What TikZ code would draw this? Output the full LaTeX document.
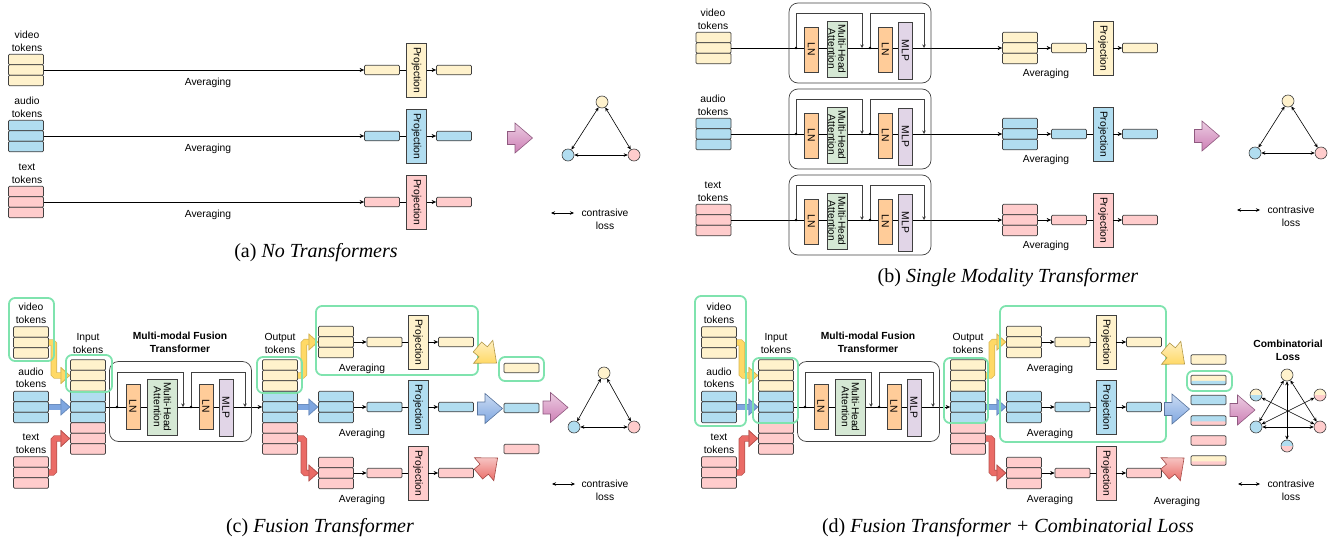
\documentclass[tikz,border=0pt]{standalone}
\usepackage{fontspec}
\setmainfont{Liberation Serif}
\setsansfont{Liberation Sans}
\usetikzlibrary{arrows.meta}

\definecolor{vidc}{HTML}{FFF2CC}
\definecolor{audc}{HTML}{B1DDF0}
\definecolor{txtc}{HTML}{FFCCCC}
\definecolor{lnc}{HTML}{FFCC99}
\definecolor{mhac}{HTML}{D5E8D4}
\definecolor{mlpc}{HTML}{E1D5E7}
\definecolor{edge}{HTML}{404040}
\definecolor{hlc}{HTML}{7FE3AE}
\definecolor{yfat}{HTML}{FFD966}
\definecolor{ydk}{HTML}{D6B656}
\definecolor{bfat}{HTML}{7EA6E0}
\definecolor{bdk}{HTML}{6C8EBF}
\definecolor{rfat}{HTML}{EA6B66}
\definecolor{rdk}{HTML}{B85450}
\definecolor{pfat}{HTML}{CD7FB5}

\tikzset{
  lbl/.style={font=\sffamily\fontsize{10.3}{12.5}\selectfont, align=center, inner sep=0pt},
  ttl/.style={lbl, font=\sffamily\bfseries\fontsize{10.3}{12.5}\selectfont},
  captxt/.style={font=\fontsize{20}{24}\selectfont, inner sep=0pt},
  tok/.style={draw=edge, line width=0.7pt, rounded corners=1.2pt, minimum width=35pt, minimum height=10.5pt, inner sep=0pt, fill=#1},
  pooled/.style={tok=#1, minimum height=9.5pt},
  halfbox/.style 2 args={pooled=#1, path picture={\fill[#2] ([yshift=-0.8pt]path picture bounding box.west) rectangle (path picture bounding box.south east);}},
  vbox/.style={draw=edge, line width=0.7pt, rotate=-90, lbl},
  proj/.style={vbox, fill=#1, minimum width=54pt, minimum height=20pt},
  lnbox/.style={vbox, fill=lnc, minimum width=45pt, minimum height=14pt},
  mha/.style={vbox, fill=mhac, minimum width=56pt, minimum height=#1, font=\sffamily\fontsize{10.2}{9.8}\selectfont},
  mlp/.style={vbox, fill=mlpc, minimum width=57pt, minimum height=14pt},
  blk/.style={draw=edge, line width=0.7pt, rounded corners=9pt, minimum width=142pt, minimum height=80pt},
  hl/.style={draw=hlc, line width=1.8pt, rounded corners=6pt},
  gnode/.style={circle, draw=edge, line width=0.6pt, minimum size=12pt, inner sep=0pt, fill=#1},
  halfnode/.style 2 args={gnode=#1, path picture={\fill[#2] (path picture bounding box.west) rectangle (path picture bounding box.south east);}},
  ln/.style={draw=black, line width=0.7pt},
  arr/.style={ln, ->, >={Stealth[length=4.5pt,width=4pt]}},
  res/.style={draw=edge, line width=0.6pt, ->, >={Stealth[length=3.5pt,width=3.5pt]}},
  cl/.style={line width=0.6pt, <->, >={Stealth[length=4pt,width=3.5pt]}},
  fatln/.style 2 args={draw=#1, line width=5pt, rounded corners=1.5pt,
    -{Triangle[width=17pt,length=9.5pt,line width=0.7pt,fill=#1,color=#2]},
    preaction={draw=#2, line width=6.4pt}},
  fat/.style={draw=#1!70!black, line width=0.6pt, top color=#1!40, bottom color=#1},
  pics/fatarr/.style={code={
    \path[pic actions] (-12.5,-6.5) -- (-5,-6.5) -- (-5,-15) -- (12.5,0) -- (-5,15) -- (-5,6.5) -- (-12.5,6.5) -- cycle;}},
}

\begin{document}
\begin{tikzpicture}[x=1pt,y=-1pt]
\useasboundingbox (0,0) rectangle (1335,546);

% (a) no transformers
\foreach \m/\col/\y in {video/vidc/70,audio/audc/136,text/txtc/202}{
  \node[lbl] (a-\m-lbl) at (27,\y-28.5) {\m\\tokens};
  \foreach \k in {0,1,2}
    \node[tok=\col] (a-\m-\k) at (26,\y-10.5+10.5*\k) {};
  \node[pooled=\col] (a-\m-avg) at (382,\y) {};
  \node[proj=\col] (a-\m-proj) at (416.5,\y) {Projection};
  \node[pooled=\col] (a-\m-out) at (454,\y) {};
  \node[lbl] (a-\m-note) at (208,\y+13) {Averaging};
  \draw[arr] (a-\m-1.east) -- (a-\m-avg.west);
  \draw[ln] (a-\m-avg.east) -- (a-\m-proj);
  \draw[arr] (a-\m-proj) -- (a-\m-out.west);
}
\pic[fat=pfat] (a-arr) at (520,138) {fatarr};
\node[gnode=vidc] (a-gv) at (602,102) {};
\node[gnode=audc] (a-ga) at (568,155) {};
\node[gnode=txtc] (a-gt) at (634,155) {};
\draw[cl] (a-gv) -- (a-ga);
\draw[cl] (a-gv) -- (a-gt);
\draw[cl] (a-ga) -- (a-gt);
\coordinate (a-l1) at (551,213);
\coordinate (a-l2) at (574,213);
\draw[cl] (a-l1) -- (a-l2);
\node[lbl] (a-leg) at (605,219.5) {contrasive\\loss};
\node[captxt] (a-cap) at (316,253) {(a) \textit{No Transformers}};

% (b) single modality transformer
\foreach \m/\col/\y in {video/vidc/48,audio/audc/134,text/txtc/220}{
  \node[lbl] (b-\m-lbl) at (713,\y-28.5) {\m\\tokens};
  \foreach \k in {0,1,2}{
    \node[tok=\col] (b-\m-\k) at (713.5,\y-10.5+10.5*\k) {};
    \node[tok=\col] (b-\m-o\k) at (1020,\y-10.5+10.5*\k) {};
  }
  \draw[arr] (b-\m-1.east) -- (b-\m-o1.west);
  \node[blk] (b-\m-blk) at (860,\y-5) {};
  \coordinate (b-\m-r1) at (796,\y);
  \coordinate (b-\m-r2) at (862,\y);
  \coordinate (b-\m-r3) at (870,\y);
  \coordinate (b-\m-r4) at (924,\y);
  \draw[res] (b-\m-r1) -- ++(0,-35) -| (b-\m-r2);
  \draw[res] (b-\m-r3) -- ++(0,-35) -| (b-\m-r4);
  \fill (b-\m-r1) circle (1.3pt);
  \fill (b-\m-r3) circle (1.3pt);
  \node[lnbox] (b-\m-ln1) at (811.5,\y+1.5) {LN};
  \node[mha=20pt] (b-\m-mha) at (837,\y+1) {Multi-Head\\Attention};
  \node[lnbox] (b-\m-ln2) at (885.5,\y+1.5) {LN};
  \node[mlp] (b-\m-mlp) at (905.5,\y+2.5) {MLP};
  \node[pooled=\col] (b-\m-avg) at (1069,\y) {};
  \node[proj=\col] (b-\m-proj) at (1103,\y) {Projection};
  \node[pooled=\col] (b-\m-out) at (1140,\y) {};
  \node[lbl] (b-\m-note) at (1046,\y+26) {Averaging};
  \draw[arr] (b-\m-o1.east) -- (b-\m-avg.west);
  \draw[ln] (b-\m-avg.east) -- (b-\m-proj);
  \draw[arr] (b-\m-proj) -- (b-\m-out.west);
}
\pic[fat=pfat] (b-arr) at (1207,136) {fatarr};
\node[gnode=vidc] (b-gv) at (1288,101) {};
\node[gnode=audc] (b-ga) at (1255,153) {};
\node[gnode=txtc] (b-gt) at (1321,153) {};
\draw[cl] (b-gv) -- (b-ga);
\draw[cl] (b-gv) -- (b-gt);
\draw[cl] (b-ga) -- (b-gt);
\coordinate (b-l1) at (1237,210);
\coordinate (b-l2) at (1260,210);
\draw[cl] (b-l1) -- (b-l2);
\node[lbl] (b-leg) at (1291,216.5) {contrasive\\loss};
\node[captxt] (b-cap) at (1008,278) {(b) \textit{Single Modality Transformer}};

% (c) and (d) fusion transformer
\foreach \p/\dx in {c/0,d/688}{
\begin{scope}[xshift=\dx]
  \foreach \m/\col/\t in {video/vidc/332,audio/audc/396.5,text/txtc/462}{
    \node[lbl] (\p-\m-lbl) at (31,\t-18.5) {\m\\tokens};
    \foreach \k in {0,1,2}
      \node[tok=\col] (\p-\m-\k) at (31,\t+10.5*\k) {};
  }
  \foreach \i/\col in {0/vidc,1/vidc,2/vidc,3/audc,4/audc,5/audc,6/txtc,7/txtc,8/txtc}{
    \node[tok=\col] (\p-in\i) at (88,365+10.5*\i) {};
    \node[tok=\col] (\p-out\i) at (280,365+10.5*\i) {};
  }
  \node[lbl] (\p-inlbl) at (88,343.5) {Input\\tokens};
  \node[lbl] (\p-outlbl) at (280,343.5) {Output\\tokens};
  \node[ttl] (\p-title) at (180,342.5) {Multi-modal Fusion\\Transformer};
  \draw[arr] (\p-in4.east) -- (\p-out4.west);
  \node[blk] (\p-blk) at (180.5,401.5) {};
  \coordinate (\p-r1) at (117,407);
  \coordinate (\p-r2) at (183,407);
  \coordinate (\p-r3) at (191,407);
  \coordinate (\p-r4) at (245,407);
  \draw[res] (\p-r1) -- ++(0,-35) -| (\p-r2);
  \draw[res] (\p-r3) -- ++(0,-35) -| (\p-r4);
  \fill (\p-r1) circle (1.3pt);
  \fill (\p-r3) circle (1.3pt);
  \node[lnbox] (\p-ln1) at (133,406.5) {LN};
  \node[mha=30pt] (\p-mha) at (162.5,407) {Multi-Head\\Attention};
  \node[lnbox] (\p-ln2) at (206,406.5) {LN};
  \node[mlp] (\p-mlp) at (226,407.5) {MLP};
  \draw[fatln={yfat}{ydk}] (\p-video-1.east) -- ++(5,0) |- (\p-in1.west);
  \draw[fatln={bfat}{bdk}] (\p-audio-1.east) -- (\p-in4.west);
  \draw[fatln={rfat}{rdk}] (\p-text-1.east) -- ++(5,0) |- (\p-in7.west);
  \foreach \m/\col/\y in {video/vidc/342,audio/audc/407,text/txtc/473}{
    \foreach \k in {0,1,2}
      \node[tok=\col] (\p-\m-s\k) at (336,\y-10.5+10.5*\k) {};
    \node[pooled=\col] (\p-\m-avg) at (384.5,\y) {};
    \node[proj=\col] (\p-\m-proj) at (418,\y) {Projection};
    \node[pooled=\col] (\p-\m-out) at (456,\y) {};
    \node[lbl] (\p-\m-note) at (362,\y+26.5) {Averaging};
    \draw[arr] (\p-\m-s1.east) -- (\p-\m-avg.west);
    \draw[ln] (\p-\m-avg.east) -- (\p-\m-proj);
    \draw[arr] (\p-\m-proj) -- (\p-\m-out.west);
  }
  \draw[fatln={yfat}{ydk}] (\p-out1.east) -- ++(6,0) |- (\p-video-s1.west);
  \draw[fatln={bfat}{bdk}] (\p-out4.east) -- (\p-audio-s1.west);
  \draw[fatln={rfat}{rdk}] (\p-out7.east) -- ++(6,0) |- (\p-text-s1.west);
\end{scope}
}

% (c) fusion: only video-audio-text pairs
\draw[hl] (9,298) rectangle (54,361);
\draw[hl] (66,355) rectangle (112,392);
\draw[hl] (257,357) rectangle (302,393);
\draw[hl] (316,306) rectangle (478,375);
\draw[hl] (499,357) rectangle (544,381);
\pic[fat=yfat, rotate=-40] (c-yarr) at (487,355) {fatarr};
\pic[fat=bfat] (c-barr) at (490,408.5) {fatarr};
\pic[fat=rfat, rotate=40] (c-rarr) at (488,466) {fatarr};
\node[pooled=vidc] (c-fv) at (521.5,368) {};
\node[pooled=audc] (c-fa) at (521.5,408) {};
\node[pooled=txtc] (c-ft) at (521.5,449) {};
\pic[fat=pfat] (c-arr) at (555.5,407.5) {fatarr};
\node[gnode=vidc] (c-gv) at (604,373) {};
\node[gnode=audc] (c-ga) at (574,427) {};
\node[gnode=txtc] (c-gt) at (634,427) {};
\draw[cl] (c-gv) -- (c-ga);
\draw[cl] (c-gv) -- (c-gt);
\draw[cl] (c-ga) -- (c-gt);
\coordinate (c-l1) at (552,484);
\coordinate (c-l2) at (575,484);
\draw[cl] (c-l1) -- (c-l2);
\node[lbl] (c-leg) at (605,490.5) {contrasive\\loss};
\node[captxt] (c-cap) at (320,528) {(c) \textit{Fusion Transformer}};

% (d) fusion + combinatorial loss
\draw[hl] (695,296) rectangle (746,426);
\draw[hl] (753,358) rectangle (798,423);
\draw[hl] (944,358) rectangle (988,423);
\draw[hl] (1000,306) rectangle (1166,442);
\draw[hl] (1187,371) rectangle (1232,391);
\pic[fat=yfat, rotate=-40] (d-yarr) at (1175,356) {fatarr};
\pic[fat=bfat] (d-barr) at (1177,409) {fatarr};
\pic[fat=rfat, rotate=40] (d-rarr) at (1174.5,466) {fatarr};
\node[pooled=vidc] (d-c1) at (1208.5,359.5) {};
\node[halfbox={vidc}{audc}] (d-c2) at (1208.5,380) {};
\node[pooled=audc] (d-c3) at (1208.5,400) {};
\node[halfbox={audc}{txtc}] (d-c4) at (1208.5,420.5) {};
\node[pooled=txtc] (d-c5) at (1208.5,440.5) {};
\node[halfbox={vidc}{txtc}] (d-c6) at (1208.5,460.5) {};
\node[lbl] (d-note) at (1177,502) {Averaging};
\pic[fat=pfat] (d-arr) at (1242.5,410) {fatarr};
\node[ttl] (d-title) at (1288,350.5) {Combinatorial\\Loss};
\node[gnode=vidc] (d-gv) at (1287,375) {};
\node[halfnode={vidc}{audc}] (d-gva) at (1256,395) {};
\node[halfnode={vidc}{txtc}] (d-gvt) at (1320,395) {};
\node[gnode=audc] (d-ga) at (1256,427) {};
\node[gnode=txtc] (d-gt) at (1320,427) {};
\node[halfnode={audc}{txtc}] (d-gat) at (1287,446) {};
\draw[cl] (d-gv) -- (d-ga);
\draw[cl] (d-gv) -- (d-gt);
\draw[cl] (d-ga) -- (d-gt);
\draw[cl] (d-gva) -- (d-gt);
\draw[cl] (d-gvt) -- (d-ga);
\draw[cl] (d-gv) -- (d-gat);
\coordinate (d-l1) at (1238,484);
\coordinate (d-l2) at (1260,484);
\draw[cl] (d-l1) -- (d-l2);
\node[lbl] (d-leg) at (1291,490.5) {contrasive\\loss};
\node[captxt] (d-cap) at (1008,528) {(d) \textit{Fusion Transformer + Combinatorial Loss}};
\end{tikzpicture}
\end{document}
